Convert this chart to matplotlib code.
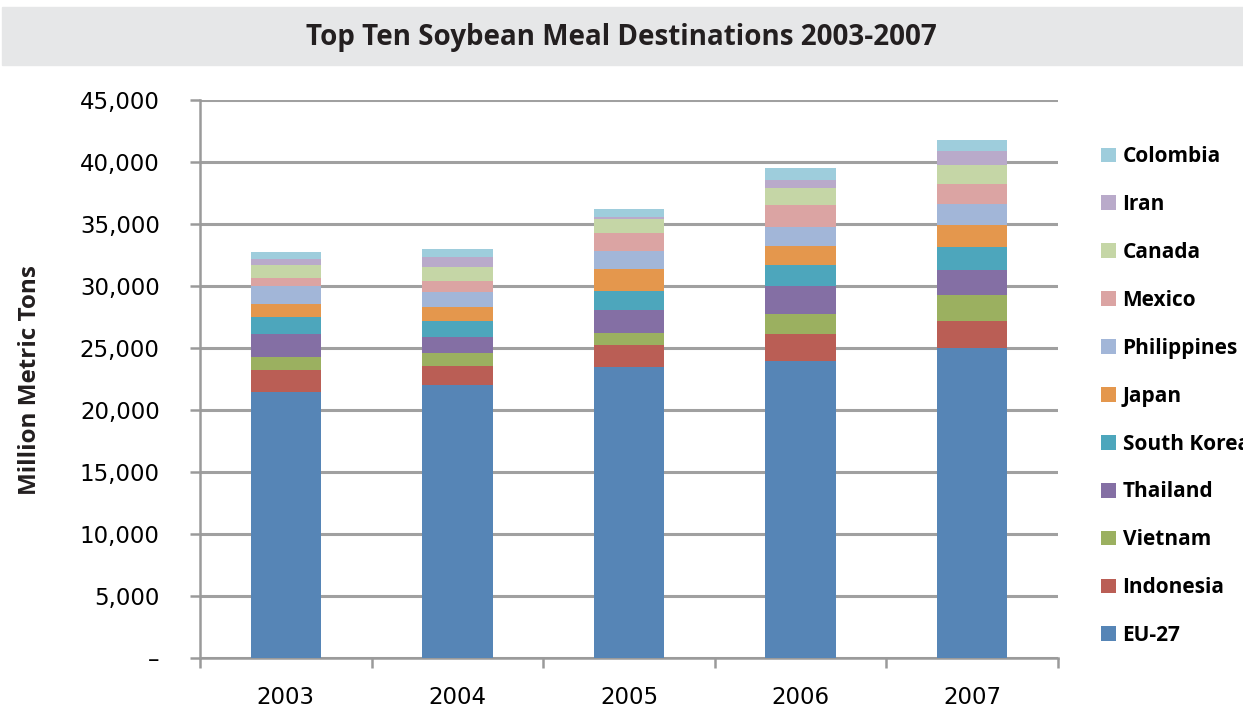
import numpy as np
import matplotlib
matplotlib.use("Agg")
from matplotlib import pyplot as plt
from matplotlib.patches import Rectangle
from matplotlib.ticker import FuncFormatter

years = ['2003', '2004', '2005', '2006', '2007']
countries = ['EU-27', 'Indonesia', 'Vietnam', 'Thailand', 'South Korea',
             'Japan', 'Philippines', 'Mexico', 'Canada', 'Iran', 'Colombia']

eu27 = [21480, 22020, 23470, 23950, 25000]
indonesia = [1750, 1530, 1780, 2180, 2180]
vietnam = [1050, 1050, 970, 1610, 2100]
thailand = [1850, 1290, 1850, 2260, 2020]
south_korea = [1370, 1290, 1530, 1690, 1850]
japan = [1080, 1130, 1780, 1530, 1750]
philippines = [1450, 1240, 1450, 1530, 1740]
mexico = [620, 860, 1450, 1770, 1590]
canada = [1050, 1130, 1130, 1370, 1530]
iran = [480, 810, 160, 650, 1130]
colombia = [570, 650, 650, 970, 890]

series = [eu27, indonesia, vietnam, thailand, south_korea, japan,
          philippines, mexico, canada, iran, colombia]
colors = ['#5685B6', '#BA5E55', '#9BB060', '#846FA4', '#4DA6BC', '#E4974D',
          '#A2B6D8', '#DBA4A3', '#C5D6A6', '#B9AACA', '#9ECDDC']

plt.rcParams['font.family'] = ['Open Sans', 'DejaVu Sans']

fig = plt.figure(figsize=(12.43, 7.09), dpi=100)
W, H = 1243, 709
ax = fig.add_axes([200 / W, 1 - 658 / H, 858 / W, 558 / H])

# title band
fig.patches.append(Rectangle((2 / W, 1 - 65 / H), 1 - 2 / W, 58 / H,
                             transform=fig.transFigure, color='#E6E7E8', zorder=0))
fig.text(621 / W, 1 - 37 / H, 'Top Ten Soybean Meal Destinations 2003-2007',
         ha='center', va='center', fontsize=20, fontweight='bold', color='#231F20')

x = np.arange(len(years))
bottom = np.zeros(len(years))
bars = []
for vals, c, name in zip(series, colors, countries):
    b = ax.bar(x, vals, width=0.41, bottom=bottom, color=c, label=name, zorder=3)
    bars.append(b)
    bottom += np.array(vals)

ax.set_xlim(-0.5, 4.5)
ax.set_ylim(0, 45000)
ax.set_yticks(np.arange(0, 45001, 5000))
ax.yaxis.set_major_formatter(FuncFormatter(lambda v, p: '–' if v == 0 else f'{int(v):,}'))
ax.set_xticks(x)
ax.set_xticklabels(years)
ax.set_xticks(np.arange(-0.5, 5, 1), minor=True)
ax.tick_params(axis='x', which='major', length=0, labelsize=16.5, pad=20)
ax.tick_params(axis='x', which='minor', length=7, width=1.8, color='#9A9A9A', direction='out')
ax.tick_params(axis='y', length=7, width=1.8, color='#9A9A9A', labelsize=16.5, pad=22)
for lab in ax.get_xticklabels() + ax.get_yticklabels():
    lab.set_family('DejaVu Sans')

ax.grid(axis='y', color='#A0A0A0', linewidth=2.2, zorder=0)
for s in ['top', 'right']:
    ax.spines[s].set_visible(False)
for s in ['left', 'bottom']:
    ax.spines[s].set_color('#9A9A9A')
    ax.spines[s].set_linewidth(1.8)

fig.text(30 / W, 1 - 380 / H, 'Million Metric Tons', rotation=90, ha='center',
         va='center', fontsize=17.5, fontweight='bold', color='#231F20')

handles = [b[0] for b in bars][::-1]
labels = countries[::-1]
leg = ax.legend(handles, labels, loc='upper left', bbox_to_anchor=(1093 / W, 1 - 138 / H),
                bbox_transform=fig.transFigure, frameon=False, fontsize=15,
                labelspacing=1.29, handlelength=0.72, handleheight=0.72,
                handletextpad=0.3, borderaxespad=0)
for t in leg.get_texts():
    t.set_fontweight('bold')

fig.savefig('out.png', dpi=100)
